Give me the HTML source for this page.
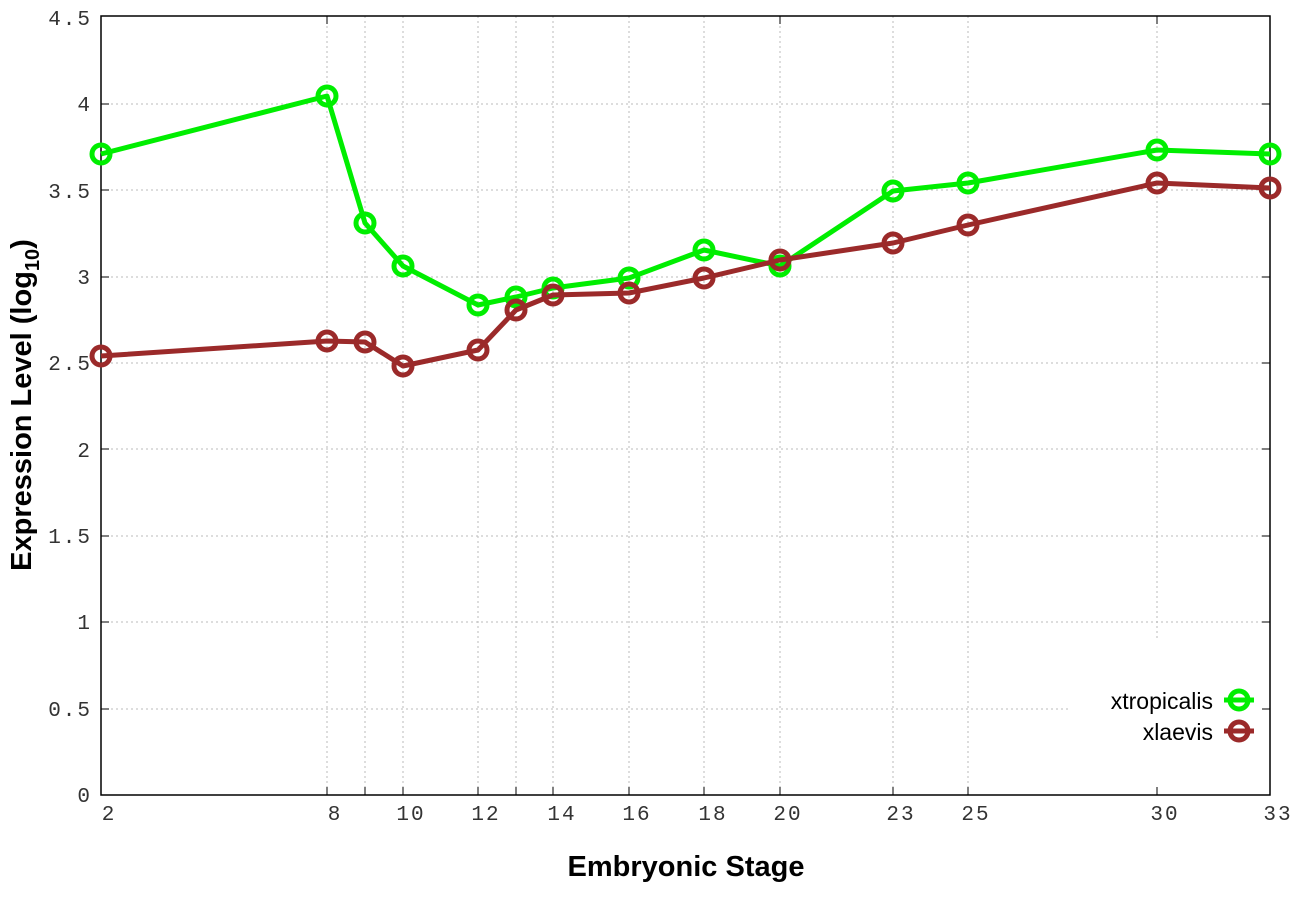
<!DOCTYPE html>
<html><head><style>html,body{margin:0;padding:0;background:#fff;}</style></head>
<body>
<svg width="1296" height="907" xmlns="http://www.w3.org/2000/svg">
<rect width="1296" height="907" fill="#fff"/>
<g stroke="#bbb" stroke-width="1" stroke-dasharray="2,3">
<line x1="101" x2="1270" y1="104" y2="104"/><line x1="101" x2="1270" y1="190" y2="190"/>
<line x1="101" x2="1270" y1="277" y2="277"/><line x1="101" x2="1270" y1="363" y2="363"/>
<line x1="101" x2="1270" y1="449" y2="449"/><line x1="101" x2="1270" y1="536" y2="536"/>
<line x1="101" x2="1270" y1="622" y2="622"/><line x1="101" x2="1070" y1="709" y2="709"/>
<line x1="327" x2="327" y1="16" y2="795"/><line x1="365" x2="365" y1="16" y2="795"/>
<line x1="403" x2="403" y1="16" y2="795"/><line x1="478" x2="478" y1="16" y2="795"/>
<line x1="516" x2="516" y1="16" y2="795"/><line x1="553" x2="553" y1="16" y2="795"/>
<line x1="629" x2="629" y1="16" y2="795"/><line x1="704" x2="704" y1="16" y2="795"/>
<line x1="780" x2="780" y1="16" y2="795"/><line x1="893" x2="893" y1="16" y2="795"/>
<line x1="968" x2="968" y1="16" y2="795"/><line x1="1157" x2="1157" y1="16" y2="640"/>
</g>
<rect x="101" y="16" width="1169" height="779" fill="none" stroke="#000" stroke-width="1.5"/>
<g stroke="#000" stroke-width="1">
<line x1="101" x2="109" y1="104" y2="104"/><line x1="101" x2="109" y1="190" y2="190"/><line x1="101" x2="109" y1="277" y2="277"/><line x1="101" x2="109" y1="363" y2="363"/><line x1="101" x2="109" y1="449" y2="449"/><line x1="101" x2="109" y1="536" y2="536"/><line x1="101" x2="109" y1="622" y2="622"/><line x1="101" x2="109" y1="709" y2="709"/>
<line x1="1262" x2="1270" y1="104" y2="104"/><line x1="1262" x2="1270" y1="190" y2="190"/><line x1="1262" x2="1270" y1="277" y2="277"/><line x1="1262" x2="1270" y1="363" y2="363"/><line x1="1262" x2="1270" y1="449" y2="449"/><line x1="1262" x2="1270" y1="536" y2="536"/><line x1="1262" x2="1270" y1="622" y2="622"/><line x1="1262" x2="1270" y1="709" y2="709"/>
<line x1="327" x2="327" y1="787" y2="795"/><line x1="365" x2="365" y1="787" y2="795"/><line x1="403" x2="403" y1="787" y2="795"/><line x1="478" x2="478" y1="787" y2="795"/><line x1="516" x2="516" y1="787" y2="795"/><line x1="553" x2="553" y1="787" y2="795"/><line x1="629" x2="629" y1="787" y2="795"/><line x1="704" x2="704" y1="787" y2="795"/><line x1="780" x2="780" y1="787" y2="795"/><line x1="893" x2="893" y1="787" y2="795"/><line x1="968" x2="968" y1="787" y2="795"/><line x1="1157" x2="1157" y1="787" y2="795"/>
<line x1="327" x2="327" y1="16" y2="24"/><line x1="780" x2="780" y1="16" y2="24"/><line x1="1157" x2="1157" y1="16" y2="24"/>
</g>
<g font-family="Liberation Mono, monospace" font-size="21" fill="#333" text-anchor="end" letter-spacing="2">
<text x="92" y="25">4.5</text><text x="92" y="111">4</text><text x="92" y="198">3.5</text><text x="92" y="284">3</text><text x="92" y="370">2.5</text><text x="92" y="457">2</text><text x="92" y="543">1.5</text><text x="92" y="629">1</text><text x="92" y="716">0.5</text><text x="92" y="802">0</text>
</g>
<g font-family="Liberation Mono, monospace" font-size="21" fill="#333" text-anchor="middle" letter-spacing="2">
<text x="109" y="820">2</text><text x="335" y="820">8</text><text x="411" y="820">10</text><text x="486" y="820">12</text><text x="562" y="820">14</text><text x="637" y="820">16</text><text x="713" y="820">18</text><text x="788" y="820">20</text><text x="901" y="820">23</text><text x="976" y="820">25</text><text x="1165" y="820">30</text><text x="1278" y="820">33</text>
</g>
<text x="686" y="876" font-family="Liberation Sans, sans-serif" font-weight="bold" font-size="29" text-anchor="middle">Embryonic Stage</text>
<text transform="translate(31,405) rotate(-90)" font-family="Liberation Sans, sans-serif" font-weight="bold" font-size="29" text-anchor="middle">Expression Level (log<tspan font-size="20" dy="8">10</tspan><tspan dy="-8">)</tspan></text>
<g fill="none" stroke-width="5" stroke-linejoin="round">
<polyline stroke="#00ee00" points="101,154 327,96 365,223 403,266 478,305 516,297 553,288 629,278 704,250 780,266 893,191 968,183 1157,150 1270,154"/>
<g stroke="#00ee00">
<circle cx="101" cy="154" r="9"/><circle cx="327" cy="96" r="9"/><circle cx="365" cy="223" r="9"/><circle cx="403" cy="266" r="9"/><circle cx="478" cy="305" r="9"/><circle cx="516" cy="297" r="9"/><circle cx="553" cy="288" r="9"/><circle cx="629" cy="278" r="9"/><circle cx="704" cy="250" r="9"/><circle cx="780" cy="266" r="9"/><circle cx="893" cy="191" r="9"/><circle cx="968" cy="183" r="9"/><circle cx="1157" cy="150" r="9"/><circle cx="1270" cy="154" r="9"/>
</g>
<polyline stroke="#9b2a2a" points="101,356 327,341 365,342 403,366 478,350 516,310 553,295 629,293 704,278 780,260 893,243 968,225 1157,183 1270,188"/>
<g stroke="#9b2a2a">
<circle cx="101" cy="356" r="9"/><circle cx="327" cy="341" r="9"/><circle cx="365" cy="342" r="9"/><circle cx="403" cy="366" r="9"/><circle cx="478" cy="350" r="9"/><circle cx="516" cy="310" r="9"/><circle cx="553" cy="295" r="9"/><circle cx="629" cy="293" r="9"/><circle cx="704" cy="278" r="9"/><circle cx="780" cy="260" r="9"/><circle cx="893" cy="243" r="9"/><circle cx="968" cy="225" r="9"/><circle cx="1157" cy="183" r="9"/><circle cx="1270" cy="188" r="9"/>
</g>
<line x1="1224" x2="1254" y1="700" y2="700" stroke="#00ee00"/><circle cx="1239" cy="700" r="9" stroke="#00ee00"/>
<line x1="1224" x2="1254" y1="731" y2="731" stroke="#9b2a2a"/><circle cx="1239" cy="731" r="9" stroke="#9b2a2a"/>
</g>
<g font-family="Liberation Sans, sans-serif" font-size="23" fill="#000" text-anchor="end">
<text x="1213" y="709">xtropicalis</text><text x="1213" y="740">xlaevis</text>
</g>
</svg>
</body></html>
